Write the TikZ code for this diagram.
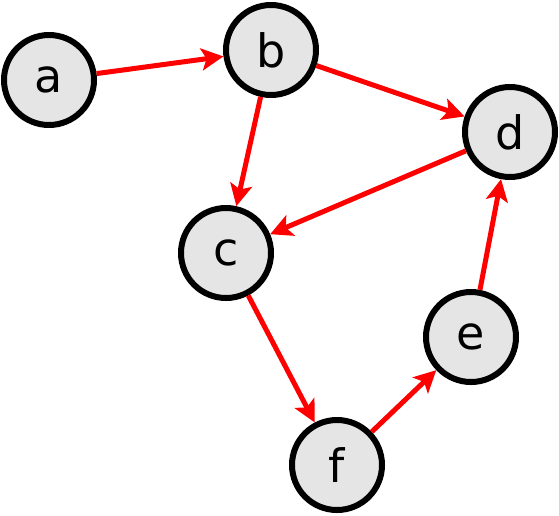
\documentclass[tikz,border=0pt]{standalone}
\usepackage{fontspec}
\setmainfont{DejaVu Sans}
\usetikzlibrary{arrows.meta}
\begin{document}
\begin{tikzpicture}[x=1pt,y=-1pt,
  vertex/.style={circle,draw=black,line width=6pt,fill=black!10,minimum size=90pt,inner sep=0pt,font=\fontsize{46}{46}\selectfont},
  edge/.style={draw=red,line width=5pt,-{Stealth[length=22pt,width=22pt,inset=5pt]}}]
\useasboundingbox (0,0) rectangle (559,515);
\node[vertex] (a) at (49,80) {a};
\node[vertex] (b) at (271,50) {b};
\node[vertex] (c) at (226,253) {c};
\node[vertex] (d) at (510,132) {d};
\node[vertex] (e) at (471,337) {e};
\node[vertex] (f) at (337,465) {f};
\path[edge] (a) -- (b);
\path[edge] (b) -- (c);
\path[edge] (b) -- (d);
\path[edge] (d) -- (c);
\path[edge] (c) -- (f);
\path[edge] (f) -- (e);
\path[edge] (e) -- (d);
\end{tikzpicture}
\end{document}
